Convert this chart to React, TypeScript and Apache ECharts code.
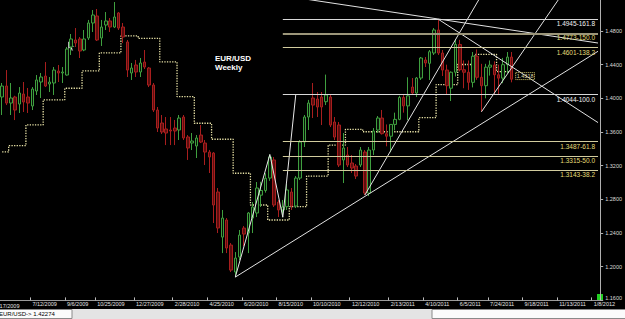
import React, { useEffect, useRef } from "react";
import * as echarts from "echarts";

// ---------- data ----------
const firstWeekUTC = Date.UTC(2009, 4, 24); // week of 5/24/2009
const weekCount = 139;

const axisLabelDates = [
  "7/12/2009", "9/6/2009", "10/25/2009", "12/27/2009", "2/28/2010", "4/25/2010",
  "6/20/2010", "8/15/2010", "10/10/2010", "12/12/2010", "2/13/2011", "4/10/2011",
  "6/5/2011", "7/24/2011", "9/18/2011", "11/13/2011", "1/8/2012",
];
const clippedFirstLabel = "5/17/2009";

const open = [
  1.4016, 1.4146, 1.3944, 1.4016, 1.3932, 1.4051, 1.4016, 1.3909, 1.4087, 1.4194,
  1.4265, 1.4170, 1.4182, 1.4325, 1.4301, 1.4277, 1.4610, 1.4693, 1.4705, 1.4574,
  1.4717, 1.4895, 1.4978, 1.4717, 1.4871, 1.4919, 1.4847, 1.5014, 1.4847, 1.4669,
  1.4301, 1.4396, 1.4313, 1.4431, 1.4360, 1.4158, 1.3861, 1.3707, 1.3636, 1.3624,
  1.3647, 1.3624, 1.3778, 1.3541, 1.3469, 1.3434, 1.3564, 1.3469, 1.3362, 1.3350,
  1.2887, 1.2352, 1.2555, 1.2257, 1.1937, 1.2115, 1.2459, 1.2400, 1.2578, 1.2638,
  1.2850, 1.2905, 1.3053, 1.3268, 1.2768, 1.2674, 1.2713, 1.2887, 1.2721, 1.3053,
  1.3481, 1.3778, 1.4004, 1.3992, 1.4016, 1.3960, 1.4016, 1.3719, 1.3683, 1.3268,
  1.3327, 1.3232, 1.3196, 1.3208, 1.3362, 1.2875, 1.3386, 1.3624, 1.3766, 1.3580,
  1.3550, 1.3690, 1.3750, 1.4010, 1.3910, 1.4134, 1.4063, 1.4241, 1.4455, 1.4416,
  1.4538, 1.4812, 1.4538, 1.4336, 1.4120, 1.4310, 1.4640, 1.4340, 1.4310, 1.4190,
  1.4500, 1.4250, 1.4150, 1.4370, 1.4395, 1.4280, 1.4240, 1.4400, 1.4490,
];
const close = [
  1.4146, 1.3944, 1.4004, 1.3861, 1.4063, 1.3956, 1.3944, 1.4110, 1.4218, 1.4253,
  1.4146, 1.4194, 1.4336, 1.4301, 1.4313, 1.4586, 1.4705, 1.4657, 1.4562, 1.4705,
  1.4895, 1.4990, 1.4693, 1.4847, 1.4919, 1.4847, 1.4966, 1.4835, 1.4728, 1.4336,
  1.4360, 1.4313, 1.4420, 1.4372, 1.4158, 1.3861, 1.3647, 1.3600, 1.3588, 1.3612,
  1.3612, 1.3766, 1.3529, 1.3410, 1.3493, 1.3529, 1.3481, 1.3362, 1.3303, 1.2733,
  1.2460, 1.2578, 1.2222, 1.1960, 1.2103, 1.2376, 1.2388, 1.2638, 1.2709, 1.2935,
  1.2905, 1.3050, 1.3303, 1.2733, 1.2674, 1.2709, 1.2912, 1.2721, 1.3053, 1.3481,
  1.3778, 1.3944, 1.3920, 1.3897, 1.3897, 1.4040, 1.3683, 1.3540, 1.3208, 1.3410,
  1.3208, 1.3172, 1.3077, 1.3386, 1.2875, 1.3386, 1.3612, 1.3766, 1.3580, 1.3550,
  1.3690, 1.3750, 1.4010, 1.3910, 1.4030, 1.4063, 1.4241, 1.4479, 1.4420, 1.4554,
  1.4812, 1.4538, 1.4336, 1.4150, 1.4310, 1.4640, 1.4340, 1.4310, 1.4190, 1.4500,
  1.4250, 1.4150, 1.4370, 1.4395, 1.4280, 1.4240, 1.4400, 1.4490, 1.4227,
];
const low = [
  1.3802, 1.3920, 1.3802, 1.3742, 1.3826, 1.3838, 1.3826, 1.3861, 1.4040, 1.4004,
  1.4134, 1.4075, 1.4040, 1.4194, 1.4182, 1.4270, 1.4515, 1.4610, 1.4479, 1.4560,
  1.4693, 1.4788, 1.4681, 1.4622, 1.4812, 1.4788, 1.4835, 1.4812, 1.4657, 1.4253,
  1.4218, 1.4253, 1.4253, 1.4348, 1.4134, 1.3838, 1.3600, 1.3576, 1.3445, 1.3445,
  1.3445, 1.3505, 1.3505, 1.3268, 1.3386, 1.3291, 1.3469, 1.3208, 1.3113, 1.2519,
  1.2400, 1.2162, 1.2162, 1.1937, 1.1877, 1.2080, 1.2246, 1.2162, 1.2400, 1.2590,
  1.2710, 1.2880, 1.3020, 1.2709, 1.2590, 1.2588, 1.2674, 1.2674, 1.2697, 1.3030,
  1.3422, 1.3624, 1.3766, 1.3778, 1.3683, 1.3920, 1.3659, 1.3505, 1.3184, 1.2994,
  1.3184, 1.3113, 1.3042, 1.3184, 1.2851, 1.2839, 1.3327, 1.3588, 1.3570, 1.3430,
  1.3360, 1.3620, 1.3740, 1.3830, 1.3740, 1.4040, 1.4016, 1.4218, 1.4372, 1.4218,
  1.4515, 1.4515, 1.4265, 1.4050, 1.3968, 1.4260, 1.4320, 1.4120, 1.4100, 1.4130,
  1.4220, 1.3840, 1.4000, 1.4270, 1.4050, 1.4050, 1.4180, 1.4300, 1.4190,
];
const high = [
  1.4182, 1.4336, 1.4182, 1.4030, 1.4134, 1.4194, 1.4123, 1.4134, 1.4277, 1.4301,
  1.4431, 1.4253, 1.4372, 1.4396, 1.4372, 1.4610, 1.4764, 1.4835, 1.4728, 1.4812,
  1.4931, 1.5049, 1.5061, 1.4931, 1.5025, 1.4954, 1.5144, 1.5025, 1.4895, 1.4693,
  1.4420, 1.4456, 1.4479, 1.4574, 1.4372, 1.4182, 1.3897, 1.3802, 1.3778, 1.3778,
  1.3743, 1.3802, 1.3802, 1.3564, 1.3588, 1.3564, 1.3683, 1.3505, 1.3387, 1.3362,
  1.2935, 1.2674, 1.2578, 1.2281, 1.2174, 1.2436, 1.2483, 1.2650, 1.2768, 1.3006,
  1.3009, 1.3110, 1.3333, 1.3303, 1.2793, 1.2793, 1.2982, 1.2935, 1.3077, 1.3505,
  1.3802, 1.3981, 1.4182, 1.4075, 1.4075, 1.4282, 1.4040, 1.3778, 1.3719, 1.3588,
  1.3422, 1.3327, 1.3220, 1.3422, 1.3386, 1.3422, 1.3647, 1.3790, 1.3862, 1.3690,
  1.3690, 1.3830, 1.4030, 1.4040, 1.4250, 1.4241, 1.4253, 1.4491, 1.4491, 1.4574,
  1.4835, 1.4940, 1.4574, 1.4400, 1.4320, 1.4700, 1.4695, 1.4450, 1.4450, 1.4550,
  1.4580, 1.4410, 1.4410, 1.4450, 1.4440, 1.4400, 1.4480, 1.4550, 1.4550,
];

// trailing stop (dotted step line)
const stopLevels = [
  1.3363, 1.3363,
  1.3438, 1.3438, 1.3438, 1.3438,
  1.3684, 1.3684, 1.3684, 1.3684,
  1.3981, 1.3981, 1.3981, 1.3981, 1.3981,
  1.4120, 1.4120, 1.4120, 1.4120,
  1.4325, 1.4325, 1.4325, 1.4325,
  1.4539, 1.4539, 1.4539, 1.4539, 1.4539,
  1.4741, 1.4741, 1.4741, 1.4741,
  1.4713, 1.4713, 1.4713, 1.4713, 1.4713,
  1.4432, 1.4432, 1.4432, 1.4432,
  1.4020, 1.4020, 1.4020, 1.4020,
  1.3704, 1.3704, 1.3704, 1.3704,
  1.3514, 1.3514, 1.3514, 1.3514, 1.3514,
  1.3110, 1.3110, 1.3110, 1.3110,
  1.2733, 1.2733, 1.2733, 1.2733,
  1.2555, 1.2555, 1.2555, 1.2555, 1.2555,
  1.2713, 1.2713, 1.2713, 1.2713,
  1.3077, 1.3077, 1.3077, 1.3077, 1.3077,
  1.3445, 1.3445, 1.3445, 1.3445,
  1.3632, 1.3632, 1.3632, 1.3632,
  1.3603, 1.3603, 1.3603, 1.3603, 1.3603, 1.3603, 1.3603, 1.3603, 1.3603, 1.3603, 1.3603, 1.3603, 1.3603,
  1.3770, 1.3770, 1.3770, 1.3770,
  1.4164, 1.4164, 1.4164, 1.4164, 1.4164,
  1.4402, 1.4402, 1.4402, 1.4402,
  1.4523, 1.4523, 1.4523, 1.4523, 1.4523,
  1.4318, 1.4318, 1.4318, 1.4318,
];
const stopLabelText = "1.4318";

// Fibonacci levels
const fibPrices = [1.4945, 1.4773, 1.4601, 1.4044, 1.3487, 1.3315, 1.3143];
const fibTexts = [
  "1.4945-161.8", "1.4773-150.0", "1.4601-138.2", "1.4044-100.0",
  "1.3487-61.8", "1.3315-50.0", "1.3143-38.2",
];
const fibStartWeek = 65;
const fibEndWeek = 138;

// trend lines [weekIndex, price]
const trendLines = [
  [[54, 1.1877], [138, 1.4559]],
  [[84, 1.2851], [111, 1.5225]],
  [[70, 1.5181], [138, 1.4657]],
  [[101, 1.494], [138, 1.3712]],
  [[111, 1.384], [129, 1.5185]],
];
const zigzag = [[54, 1.1877], [62, 1.3333], [65, 1.2588], [68, 1.4044]];

const lastPrice = 1.4227;
const statusText = "EUR/USD-> 1.42274";
const titleLines = ["EUR/USD", "Weekly"];

// ---------- helpers ----------
function buildWeeks(): string[] {
  const out: string[] = [];
  for (let k = 0; k < weekCount; k++) {
    const t = new Date(firstWeekUTC + k * 7 * 86400000);
    out.push(`${t.getUTCMonth() + 1}/${t.getUTCDate()}/${t.getUTCFullYear()}`);
  }
  return out;
}

const FONT = "Liberation Sans, Arial, sans-serif";

export default function App() {
  const ref = useRef<HTMLDivElement>(null);

  useEffect(() => {
    document.body.style.margin = "0";
    document.body.style.background = "#000";
    if (!ref.current) return;
    const chart = echarts.init(ref.current, undefined, { renderer: "svg" });
    const weeks = buildWeeks();
    const candleData = open.map((o, i) => [o, close[i], low[i], high[i]]);
    const showLabel = (idx: number, val: string) => axisLabelDates.includes(val);
    const whiteFib = [0, 3];

    const fibMarks = fibPrices.map((p, k) => {
      const isWhite = whiteFib.includes(k);
      return [
        {
          coord: [fibStartWeek, p],
          lineStyle: {
            color: isWhite ? "#d8d8d8" : k === 1 ? "#9c967a" : "#d2cc9e",
            width: k === 1 ? 2 : 1,
            type: "solid",
          },
          label: {
            show: true,
            position: "insideEndBottom",
            formatter: fibTexts[k],
            color: isWhite ? "#f4f4f4" : "#e6de78",
            fontSize: 6.5,
            fontFamily: FONT,
            distance: [3, 1],
          },
        },
        { coord: [fibEndWeek, p] },
      ];
    });

    const trendSeries = trendLines.map((seg) => ({
      type: "line",
      data: seg,
      symbol: "none",
      silent: true,
      z: 4,
      lineStyle: { color: "#e2e2e2", width: 1 },
    }));

    chart.setOption({
      animation: false,
      backgroundColor: "#000",
      grid: { left: 0, right: 22, top: 0, bottom: 18.6 },
      xAxis: {
        type: "category",
        data: weeks,
        boundaryGap: true,
        axisLine: { show: true, lineStyle: { color: "#9a9a9a", width: 1 } },
        axisTick: {
          show: true,
          inside: true,
          length: 3,
          interval: showLabel,
          lineStyle: { color: "#bbbbbb" },
        },
        axisLabel: {
          show: true,
          interval: showLabel,
          align: "left",
          margin: 1,
          color: "#e4e4e4",
          fontSize: 5.5,
          fontFamily: FONT,
        },
        splitLine: { show: false },
      },
      yAxis: {
        type: "value",
        position: "right",
        min: 1.16,
        max: 1.5168,
        interval: 0.04,
        axisLine: { show: true, lineStyle: { color: "#b0b0b0", width: 1 } },
        axisTick: { show: true, length: 3, lineStyle: { color: "#b0b0b0" } },
        axisLabel: {
          show: true,
          showMaxLabel: false,
          margin: 5,
          color: "#dcdcdc",
          fontSize: 5.5,
          fontFamily: FONT,
          formatter: (v: number) => (Math.abs(v - 1.16) < 1e-6 ? "{low|" + v.toFixed(4) + "}" : v.toFixed(4)),
          rich: { low: { fontSize: 5.5, color: "#dcdcdc", fontFamily: FONT, padding: [0, 0, 5, 0] } },
        },
        splitLine: { show: false },
      },
      series: [
        {
          type: "line",
          data: stopLevels,
          step: "middle",
          symbol: "none",
          silent: true,
          z: 2,
          lineStyle: { color: "#e8e2a6", width: 1.3, type: [1.3, 1.3] },
          markPoint: {
            silent: true,
            symbol: "rect",
            symbolSize: 0.1,
            data: [
              {
                coord: [stopLevels.length - 1, stopLevels[stopLevels.length - 1]],
                label: {
                  show: true,
                  position: "right",
                  distance: 3,
                  offset: [1, 4.5],
                  formatter: stopLabelText,
                  color: "#dcd8a8",
                  fontSize: 5.5,
                  fontFamily: FONT,
                  borderColor: "#d8d070",
                  borderWidth: 1,
                  borderType: "dotted",
                  padding: [1, 1, 0, 1],
                },
              },
            ],
          },
        },
        {
          type: "candlestick",
          data: candleData,
          barWidth: 3,
          z: 3,
          silent: true,
          itemStyle: {
            color: "#081208",
            color0: "#5c0e0e",
            borderColor: "#3f9f3f",
            borderColor0: "#a81e1e",
            borderWidth: 1,
          },
          markLine: {
            silent: true,
            symbol: "none",
            data: [
              ...fibMarks,
              {
                yAxis: lastPrice,
                lineStyle: { opacity: 0 },
                label: {
                  show: true,
                  position: "end",
                  distance: 1,
                  formatter: lastPrice.toFixed(4),
                  color: "#000",
                  backgroundColor: "#fff",
                  fontSize: 5.5,
                  fontFamily: FONT,
                  padding: [1, 2, 0, 2],
                },
              },
            ],
          },
        },
        {
          type: "line",
          data: zigzag,
          symbol: "none",
          silent: true,
          z: 4,
          lineStyle: { color: "#e8e8e8", width: 1 },
        },
        ...trendSeries,
      ],
      graphic: [
        {
          type: "text",
          x: 215,
          y: 54,
          style: { text: titleLines[0], fill: "#ffffff", font: "bold 8px " + FONT },
        },
        {
          type: "text",
          x: 215,
          y: 63.5,
          style: { text: titleLines[1], fill: "#ffffff", font: "bold 8px " + FONT },
        },
        {
          type: "text",
          x: -5,
          y: 302.6,
          style: { text: clippedFirstLabel, fill: "#e4e4e4", font: "5.5px " + FONT },
        },
        {
          type: "polygon",
          shape: {
            points: [[68, 41], [68, 49.5], [70.2, 47.6], [71.8, 51], [73.2, 50.4], [71.7, 47.1], [74.5, 47.1]],
          },
          style: { fill: "#ffffff", stroke: "#000", lineWidth: 0.6 },
        },
        { type: "rect", shape: { x: 597, y: 294, width: 6, height: 6 }, style: { fill: "#22d022" } },
        { type: "rect", shape: { x: 0, y: 309, width: 625, height: 10 }, style: { fill: "#e4e4e4" } },
        {
          type: "rect",
          shape: { x: -1, y: 309.5, width: 73, height: 9 },
          style: { fill: "#fbfbfb", stroke: "#8a8a8a", lineWidth: 1 },
        },
        {
          type: "rect",
          shape: { x: 432, y: 309.5, width: 200, height: 9 },
          style: { fill: "#fbfbfb", stroke: "#8a8a8a", lineWidth: 1 },
        },
        {
          type: "text",
          x: -1,
          y: 311,
          style: { text: statusText, fill: "#000", font: "6px " + FONT },
        },
      ],
    });
    return () => chart.dispose();
  }, []);

  return <div ref={ref} style={{ width: 625, height: 319, background: "#000" }} />;
}
